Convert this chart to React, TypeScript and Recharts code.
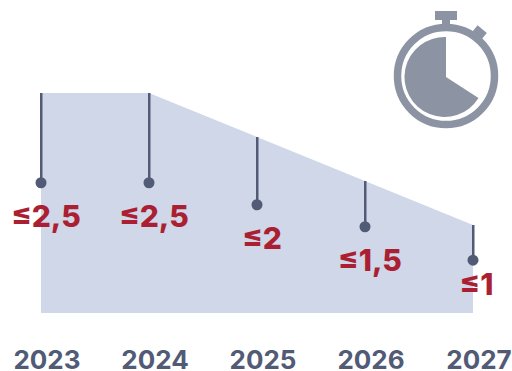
import { ComposedChart, Area, Bar, Line, XAxis, YAxis, LabelList } from 'recharts'

const years = ['2023', '2024', '2025', '2026', '2027']
const limits = [2.5, 2.5, 2, 1.5, 1]
const pinEnds = [1.48, 1.48, 1.23, 0.98, 0.6]
const limitLabels = ['≤2,5', '≤2,5', '≤2', '≤1,5', '≤1']

const rows = years.map((year, i) => ({
  year,
  limit: limits[i],
  pin: [pinEnds[i], limits[i]],
  pinEnd: pinEnds[i],
  label: limitLabels[i],
}))

const FONT = 'Inter, sans-serif'
const SLATE = '#525b76'
const ICON = '#8c93a3'

function PinLabel(props: any) {
  const { x, y, value, index } = props
  const last = index === years.length - 1
  return (
    <text
      x={x + (last ? 3.5 : 5)}
      y={y + (last ? 34.5 : 44.5)}
      textAnchor="middle"
      fill="#ab1f33"
      fontFamily={FONT}
      fontWeight={800}
      fontSize={30}
    >
      {value}
    </text>
  )
}

function Stopwatch() {
  return (
    <svg width={512} height={371} style={{ position: 'absolute', left: 0, top: 0 }}>
      <rect x={435} y={11} width={22} height={9} fill={ICON} />
      <rect x={442} y={19} width={8} height={8} fill={ICON} />
      <rect x={473} y={28} width={12} height={9} fill={ICON} transform="rotate(40 479 33)" />
      <circle cx={446} cy={76} r={48.5} fill="none" stroke={ICON} strokeWidth={7.5} />
      <path d="M446 77 L446 37 A40 40 0 1 0 478.5 98 Z" fill={ICON} />
    </svg>
  )
}

export default function App() {
  return (
    <div style={{ position: 'absolute', left: 0, top: 0, width: 512, height: 371 }}>
      <ComposedChart
        width={512}
        height={371}
        data={rows}
        margin={{ top: 93, right: 39, bottom: 0, left: 41 }}
      >
        <XAxis
          dataKey="year"
          scale="point"
          padding={{ left: 0, right: 0 }}
          height={58}
          axisLine={false}
          tickLine={false}
          interval={0}
          tickMargin={32}
          tick={{ fill: SLATE, fontFamily: FONT, fontWeight: 700, fontSize: 26, dx: 6 }}
        />
        <YAxis hide domain={[0, 2.5]} />
        <Area
          type="linear"
          dataKey="limit"
          fill="#cfd7e8"
          fillOpacity={1}
          stroke="none"
          isAnimationActive={false}
        />
        <Bar dataKey="pin" barSize={2.5} fill={SLATE} isAnimationActive={false} />
        <Line
          type="linear"
          dataKey="pinEnd"
          stroke="none"
          dot={{ r: 5.5, fill: SLATE, stroke: 'none' }}
          isAnimationActive={false}
        >
          <LabelList dataKey="label" content={PinLabel} />
        </Line>
      </ComposedChart>
      <Stopwatch />
    </div>
  )
}
